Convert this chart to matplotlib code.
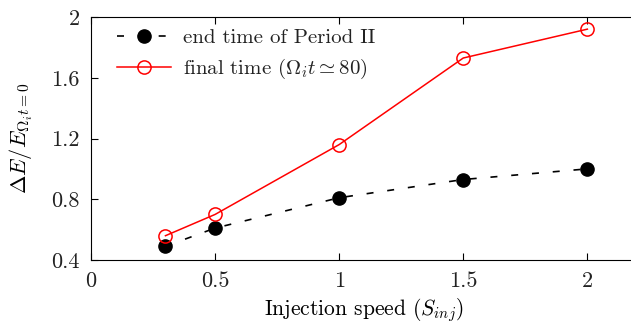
import matplotlib
matplotlib.use("Agg")
import matplotlib.pyplot as plt

plt.rcParams["font.family"] = "serif"
plt.rcParams["font.serif"] = ["cmr10"]
plt.rcParams["mathtext.fontset"] = "cm"
plt.rcParams["axes.formatter.use_mathtext"] = True
plt.rcParams["text.color"] = "#222222"
plt.rcParams["xtick.labelcolor"] = "#222222"
plt.rcParams["ytick.labelcolor"] = "#222222"

# injection speed vs. normalised energy gain
s_inj = [0.3, 0.5, 1.0, 1.5, 2.0]
de_period2 = [0.49, 0.61, 0.81, 0.93, 1.00]
de_final = [0.56, 0.70, 1.16, 1.73, 1.92]

x_ticks = [0, 0.5, 1, 1.5, 2]
x_ticklabels = ["0", "0.5", "1", "1.5", "2"]
y_ticks = [0.4, 0.8, 1.2, 1.6, 2.0]
y_ticklabels = ["0.4", "0.8", "1.2", "1.6", "2"]

W, H = 631, 326
fig = plt.figure(figsize=(W / 100, H / 100), dpi=100)
left, right, top, bottom = 91, 637, 17, 260
ax = fig.add_axes([left / W, 1 - bottom / H, (right - left) / W, (bottom - top) / H])

ax.plot(s_inj, de_period2, color="black", ls=(0, (4.2, 8.3)), lw=1.2,
        marker="o", ms=9.5, mfc="black", mec="black",
        label="end time of Period II")
ax.plot(s_inj, de_final, color="red", lw=1.1,
        marker="o", ms=9.5, mfc="none", mec="red", mew=1.1,
        label=r"final time ($\Omega_i t \simeq 80$)")

ax.set_xlim(0, 2.2)
ax.set_ylim(0.4, 2.0)
ax.set_xticks(x_ticks)
ax.set_xticklabels(x_ticklabels)
ax.set_yticks(y_ticks)
ax.set_yticklabels(y_ticklabels)
ax.tick_params(direction="in", top=True, length=5, labelsize=16, pad=8)
ax.spines["right"].set_visible(False)

ax.set_xlabel(r"Injection speed ($S_{inj}$)", fontsize=15.5, labelpad=4)
ax.set_ylabel(r"$\Delta E/E_{\Omega_i t=0}$", fontsize=16, labelpad=12)

ax.legend(loc="upper left", frameon=False, fontsize=15, handlelength=2.6,
          bbox_to_anchor=(0.025, 1.005), borderaxespad=0.2,
          handletextpad=0.55, labelspacing=0.5)

fig.savefig("out.png", dpi=100)
